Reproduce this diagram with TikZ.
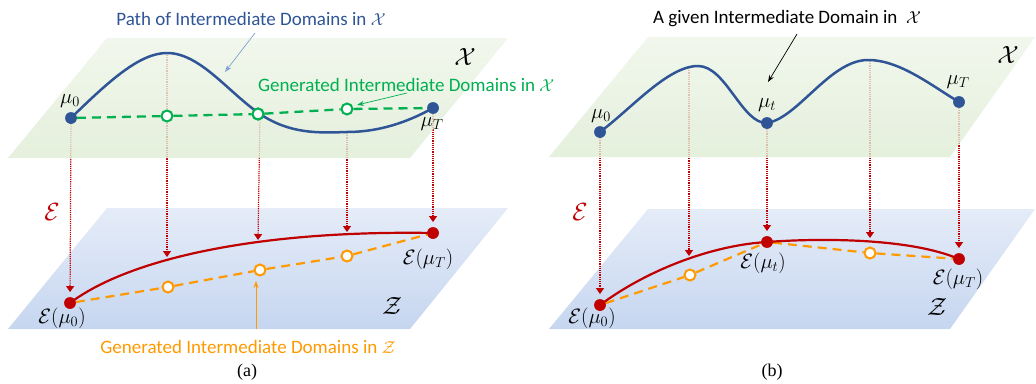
\documentclass[tikz,border=0pt]{standalone}
\usepackage{fontspec}
\setmainfont{Liberation Serif}
\newfontfamily\labfont{Carlito}
\usetikzlibrary{arrows.meta}
\definecolor{pblue}{RGB}{47,85,151}
\definecolor{pgreen}{RGB}{0,176,80}
\definecolor{porange}{RGB}{255,153,0}
\definecolor{pred}{RGB}{192,0,0}
\definecolor{gtop}{RGB}{238,245,232}
\definecolor{gbot}{RGB}{222,236,212}
\definecolor{btop}{RGB}{229,236,248}
\definecolor{bbot}{RGB}{198,214,240}
\definecolor{annblue}{RGB}{130,160,215}
\tikzset{
  dotnode/.style={circle,fill=#1,inner sep=0pt,minimum size=11.5pt},
  odot/.style={circle,draw=#1,line width=2pt,fill=white,inner sep=0pt,minimum size=11pt},
  proj/.style={pred,densely dotted,line width=1.2pt,-{Triangle[length=6pt,width=8pt]}},
  bluepath/.style={pblue,line width=2.5pt},
  redpath/.style={pred,line width=2.2pt},
  gdash/.style={pgreen,line width=2.3pt,dash pattern=on 9pt off 6pt},
  odash/.style={porange,line width=2.2pt,dash pattern=on 9pt off 6pt},
  ann/.style={line width=0.7pt,-{Stealth[length=7pt,width=5pt]}},
  lab/.style={font=\labfont\fontsize{19}{22}\selectfont,inner sep=0pt},
  mlab/.style={font=\fontsize{20.5}{23}\selectfont,inner sep=0pt},
  biglab/.style={font=\fontsize{25}{28}\selectfont,inner sep=0pt},
  captext/.style={font=\fontsize{18}{20}\selectfont,inner sep=0pt},
  gplane/.style={top color=gtop,bottom color=gbot,fill opacity=0.8},
  bplane/.style={top color=btop,bottom color=bbot}
}
\begin{document}
\begin{tikzpicture}[x=1pt,y=-1pt]
\useasboundingbox (0,0) rectangle (1036,383);
% ---------- blue planes
\shade[bplane] (107,208) -- (508,208) -- (410,329) -- (8,329) -- cycle;
\shade[bplane] (648,209) -- (1035,209) -- (950,329) -- (549,329) -- cycle;
% ---------- panel (a) coordinates
\coordinate (pa1) at (167,53);
\coordinate (pa2) at (260,114);
\coordinate (pa3) at (347,132);
\coordinate (ra1) at (167,257);
\coordinate (ra2) at (258,240);
\coordinate (ra3) at (347,232);
\node[dotnode=pred] (E0a) at (70,303) {};
\node[dotnode=pred] (ETa) at (433,233) {};
\coordinate (mu0top) at (71,118);
\coordinate (muTtop) at (433,108);
% projections (a)
\draw[proj,shorten <=6pt,shorten >=5pt] (mu0top) -- (E0a);
\draw[proj,shorten <=2pt] (pa1) -- (ra1);
\draw[proj,shorten <=4pt] (pa2) -- (ra2);
\draw[proj,shorten <=1pt] (pa3) -- (ra3);
\draw[proj,shorten <=6pt,shorten >=5pt] (muTtop) -- (ETa);
% ---------- panel (b) coordinates
\coordinate (pb1) at (689,67);
\coordinate (pb2) at (870,60);
\coordinate (rb1) at (689,256);
\coordinate (rb2) at (870,238);
\node[dotnode=pred] (E0b) at (600,305) {};
\node[dotnode=pred] (Etb) at (767,242) {};
\node[dotnode=pred] (ETb) at (959,259) {};
\coordinate (mu0btop) at (600,132);
\coordinate (mutbtop) at (767,123);
\coordinate (muTbtop) at (959,102);
\draw[proj,shorten <=6pt,shorten >=5pt] (mu0btop) -- (E0b);
\draw[proj,shorten <=1pt] (pb1) -- (rb1);
\draw[proj,shorten <=6pt,shorten >=5pt] (mutbtop) -- (Etb);
\draw[proj,shorten <=1pt] (pb2) -- (rb2);
\draw[proj,shorten <=6pt,shorten >=5pt] (muTbtop) -- (ETb);
% ---------- green planes
\shade[gplane] (107,38) -- (508,38) -- (410,158) -- (8,158) -- cycle;
\shade[gplane] (648,37) -- (1035,37) -- (950,157) -- (549,157) -- cycle;
% ---------- panel (a) upper
\node[dotnode=pblue] (mu0a) at (71,118) {};
\node[dotnode=pblue] (muTa) at (433,108) {};
\node[odot=pgreen] (g1) at (167,116) {};
\node[odot=pgreen] (g2) at (258,114) {};
\node[odot=pgreen] (g3) at (347,109) {};
\draw[gdash] (mu0a) -- (g1) -- (g2) -- (g3) -- (muTa);
\draw[bluepath] (mu0a.center) .. controls (110,80) and (140,53) .. (pa1)
  .. controls (200,53) and (228,92) .. (pa2)
  .. controls (290,134) and (318,133) .. (pa3)
  .. controls (385,132) and (415,118) .. (muTa.center);
\node[odot=pgreen] at (258,114) {};
\node[dotnode=pblue] at (71,118) {};
\node[dotnode=pblue] at (433,108) {};
% ---------- panel (a) lower
\node[odot=porange] (o1) at (168,287) {};
\node[odot=porange] (o2) at (260,270) {};
\node[odot=porange] (o3) at (347,256) {};
\draw[odash] (E0a) -- (o1) -- (o2) -- (o3) -- (ETa);
\draw[redpath] (E0a.center) .. controls (130,258) and (260,230) .. (ETa.center);
\node[dotnode=pred] at (70,303) {};
\node[dotnode=pred] at (433,233) {};
% ---------- panel (b) upper
\node[dotnode=pblue] (mu0b) at (600,132) {};
\node[dotnode=pblue] (mutb) at (767,123) {};
\node[dotnode=pblue] (muTb) at (959,102) {};
\draw[bluepath] (mu0b.center) .. controls (632,108) and (668,66) .. (698,66)
  .. controls (726,66) and (742,124) .. (mutb.center)
  .. controls (798,118) and (830,60) .. (868,60)
  .. controls (900,60) and (932,86) .. (muTb.center);
\node[dotnode=pblue] at (600,132) {};
\node[dotnode=pblue] at (767,123) {};
\node[dotnode=pblue] at (959,102) {};
% ---------- panel (b) lower
\node[odot=porange] (ob1) at (690,275) {};
\node[odot=porange] (ob2) at (870,253) {};
\draw[odash] (E0b) -- (ob1) -- (Etb) -- (ob2) -- (ETb);
\draw[redpath] (E0b.center) .. controls (650,268) and (715,245) .. (Etb.center)
  .. controls (820,238) and (910,238) .. (ETb.center);
\node[dotnode=pred] at (600,305) {};
\node[dotnode=pred] at (767,242) {};
\node[dotnode=pred] at (959,259) {};
% ---------- labels (a)
\node[mlab] (lmu0a) at (70,101) {$\mu_0$};
\node[mlab] (lmuTa) at (432,124) {$\mu_T$};
\node[biglab] (lXa) at (465,57) {$\mathcal{X}$};
\node[biglab] (lZa) at (392,306) {$\mathcal{Z}$};
\node[mlab] (lE0a) at (62,318) {$\mathcal{E}(\mu_0)$};
\node[mlab] (lETa) at (428,259) {$\mathcal{E}(\mu_T)$};
\node[biglab,text=pred] (lEa) at (52,212) {$\mathcal{E}$};
\node[lab,text=pblue] (tpath) at (251,19) {Path of Intermediate Domains in $\mathcal{X}$};
\node[lab,text=pgreen,anchor=west] (tgen) at (258,85) {Generated Intermediate Domains in $\mathcal{X}$};
\node[lab,text=porange] (tgenz) at (248,347) {Generated Intermediate Domains in $\mathcal{Z}$};
\node[captext] (capa) at (247,372) {(a)};
\coordinate (apath) at (225,72);
\coordinate (agen) at (357,105);
\coordinate (agenz) at (256,281);
\draw[ann,annblue] (255,33) -- (apath);
\draw[ann,pgreen] (407,93) -- (agen);
\draw[ann,porange] (256,329) -- (agenz);
% ---------- labels (b)
\node[mlab] (lmu0b) at (601,116) {$\mu_0$};
\node[mlab] (lmutb) at (767,105) {$\mu_t$};
\node[mlab] (lmuTb) at (958,82) {$\mu_T$};
\node[biglab] (lXb) at (1008,55) {$\mathcal{X}$};
\node[biglab] (lZb) at (937,307) {$\mathcal{Z}$};
\node[mlab] (lE0b) at (592,318) {$\mathcal{E}(\mu_0)$};
\node[mlab] (lEtb) at (763,263) {$\mathcal{E}(\mu_t)$};
\node[mlab] (lETb) at (958,279) {$\mathcal{E}(\mu_T)$};
\node[biglab,text=pred] (lEb) at (580,212) {$\mathcal{E}$};
\node[lab] (tgiven) at (787,19) {A given Intermediate Domain in \ $\mathcal{X}$};
\node[captext] (capb) at (772,372) {(b)};
\coordinate (agiven) at (768,82);
\draw[ann,black] (797,34) -- (agiven);
\end{tikzpicture}
\end{document}
